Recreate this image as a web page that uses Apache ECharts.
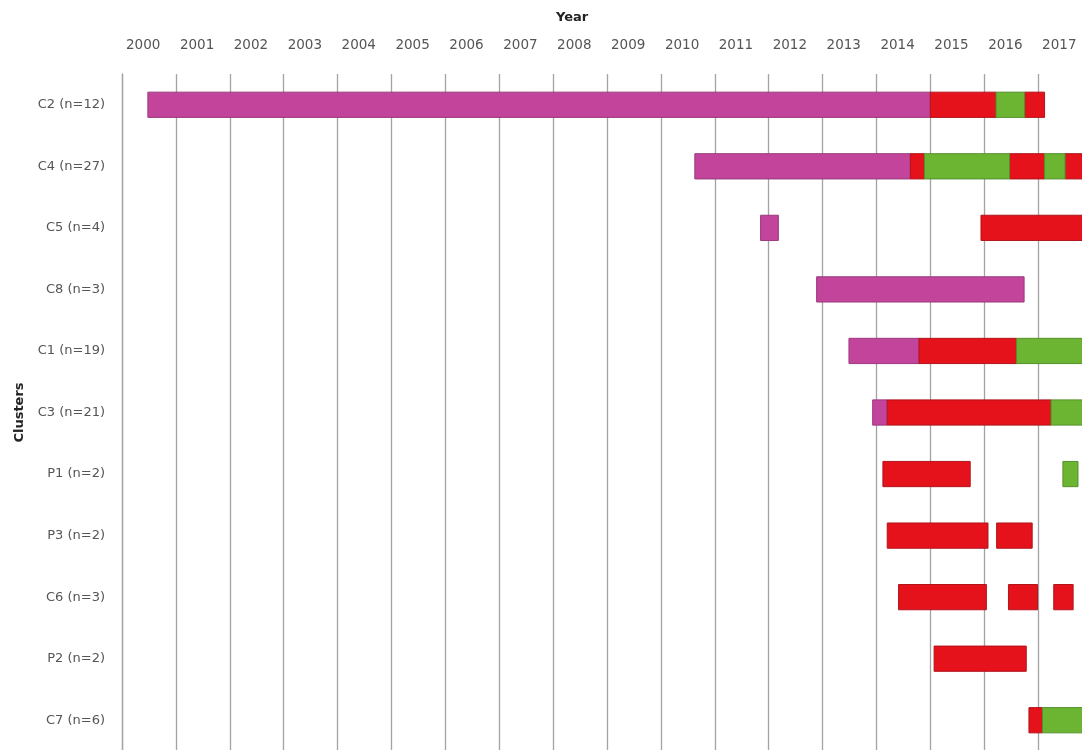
<html>
<head>
<meta charset="utf-8">
<title>Clusters by year</title>
<script src="https://cdn.jsdelivr.net/npm/echarts@6/dist/echarts.min.js"></script>
<style>
body { margin:0; background:#fff; }
#main { width:1082px; height:750px; }
</style>
<script type="text/javascript">

// rows, top to bottom
var clusters = ['C2 (n=12)', 'C4 (n=27)', 'C5 (n=4)', 'C8 (n=3)', 'C1 (n=19)', 'C3 (n=21)',
                'P1 (n=2)', 'P3 (n=2)', 'C6 (n=3)', 'P2 (n=2)', 'C7 (n=6)'];

// [cluster, from year, to year]
var purpleSpans = [
    ['C2 (n=12)', 2000.48, 2015.00],
    ['C4 (n=27)', 2010.63, 2014.63],
    ['C5 (n=4)', 2011.85, 2012.18],
    ['C8 (n=3)', 2012.89, 2016.74],
    ['C1 (n=19)', 2013.49, 2014.79],
    ['C3 (n=21)', 2013.93, 2014.20]
];
var redSpans = [
    ['C2 (n=12)', 2015.00, 2016.22],
    ['C2 (n=12)', 2016.75, 2017.12],
    ['C4 (n=27)', 2014.63, 2014.89],
    ['C4 (n=27)', 2016.47, 2017.12],
    ['C4 (n=27)', 2017.50, 2018.00],
    ['C5 (n=4)', 2015.94, 2018.00],
    ['C1 (n=19)', 2014.79, 2016.60],
    ['C3 (n=21)', 2014.20, 2017.24],
    ['P1 (n=2)', 2014.12, 2015.74],
    ['P3 (n=2)', 2014.20, 2016.07],
    ['P3 (n=2)', 2016.23, 2016.89],
    ['C6 (n=3)', 2014.41, 2016.04],
    ['C6 (n=3)', 2016.45, 2016.99],
    ['C6 (n=3)', 2017.29, 2017.65],
    ['P2 (n=2)', 2015.07, 2016.78],
    ['C7 (n=6)', 2016.83, 2017.08]
];
var greenSpans = [
    ['C2 (n=12)', 2016.22, 2016.75],
    ['C4 (n=27)', 2014.89, 2016.47],
    ['C4 (n=27)', 2017.12, 2017.50],
    ['C1 (n=19)', 2016.60, 2018.00],
    ['C3 (n=21)', 2017.24, 2018.00],
    ['P1 (n=2)', 2017.46, 2017.74],
    ['C7 (n=6)', 2017.08, 2018.00]
];

var firstYear = 2000;
var lastYear = 2018;

function renderSpan(params, api) {
    var row = api.value(0);
    var a = api.coord([api.value(1), row]);
    var b = api.coord([api.value(2), row]);
    var h = api.size([0, 1])[1] * 0.41;
    return {
        type: 'rect',
        shape: { x: a[0], y: a[1] - h / 2, width: b[0] - a[0], height: h },
        style: api.style()
    };
}

function spanSeries(name, data, color, edge) {
    return {
        name: name,
        type: 'custom',
        renderItem: renderSpan,
        encode: { x: [1, 2], y: 0 },
        itemStyle: { color: color, borderColor: edge, borderWidth: 1 },
        data: data
    };
}

function init() {
    var myChart = echarts.init(document.getElementById('main'));
    var font = 'DejaVu Sans';

    option = {
        backgroundColor: '#fff',
        animation: false,
        title: {
            text: 'Year',
            left: 551, top: 6,
            textStyle: { fontFamily: font, fontSize: 13, fontWeight: 'bold', color: '#222' }
        },
        // the plot runs on past the right edge of the page (cut off, like the original)
        grid: { left: 122, top: 74, width: 970, height: 677, outerBoundsMode: 'none' },
        xAxis: {
            type: 'value',
            position: 'top',
            min: firstYear,
            max: lastYear,
            interval: 1,
            axisLine: { show: false },
            axisTick: { show: false },
            splitLine: { show: true, lineStyle: { color: '#a3a3a3', width: 1.3 } },
            axisLabel: {
                align: 'left',
                padding: [0, 0, 0, 4],
                margin: 22,
                fontFamily: font,
                fontSize: 13.5,
                color: '#555',
                formatter: function (v) { return v == lastYear ? '' : v; }
            }
        },
        yAxis: {
            type: 'category',
            data: clusters,
            inverse: true,
            name: 'Clusters',
            nameLocation: 'middle',
            nameGap: 96,
            nameTextStyle: { fontFamily: font, fontSize: 13, fontWeight: 'bold', color: '#222' },
            axisLine: { show: true, lineStyle: { color: '#a3a3a3', width: 1.3 } },
            axisTick: { show: false },
            splitLine: { show: false },
            axisLabel: { margin: 17, fontFamily: font, fontSize: 13, color: '#555' }
        },
        series: [
            spanSeries('purple', purpleSpans, '#c2449b', '#9a3a7c'),
            spanSeries('red', redSpans, '#e5111b', '#b0151c'),
            spanSeries('green', greenSpans, '#6bb532', '#55902a')
        ]
    };
    myChart.setOption(option);
}

</script>
</head>
<body onload="init();">
<div id="main"></div>
</body>
</html>
